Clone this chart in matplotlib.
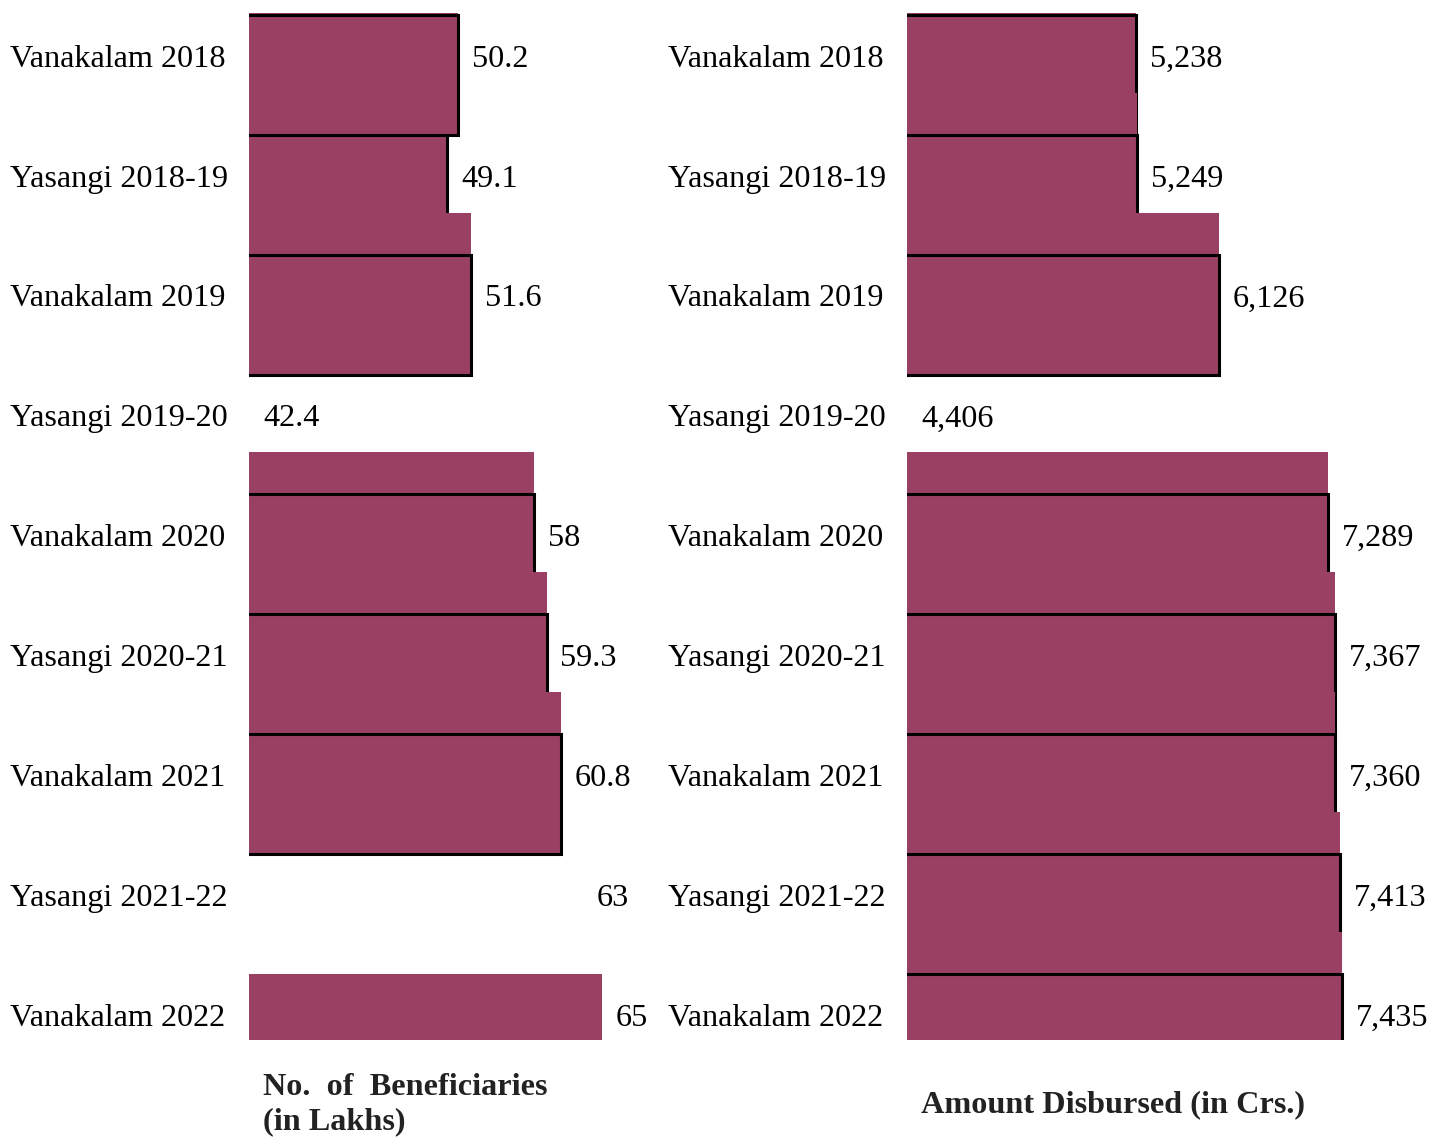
import matplotlib.pyplot as plt
from matplotlib import transforms

# season-wise data (Rythu Bandhu style summary)
categories = ["Vanakalam 2018", "Yasangi 2018-19", "Vanakalam 2019", "Yasangi 2019-20",
              "Vanakalam 2020", "Yasangi 2020-21", "Vanakalam 2021", "Yasangi 2021-22",
              "Vanakalam 2022"]
beneficiaries = [50.2, 49.1, 51.6, 42.4, 58, 59.3, 60.8, 63, 65]   # in lakhs
amounts = [5238, 5249, 6126, 4406, 7289, 7367, 7360, 7413, 7435]   # in crores

# rows where the picture shows no bar
no_bar = ["Yasangi 2019-20"]
no_bar_left = ["Yasangi 2021-22"]
no_box_left = ["Vanakalam 2022"]

bar_color = "#9a4062"
plt.rcParams["font.family"] = ["Liberation Serif", "DejaVu Serif"]
FS = 23.2

W, H = 1435, 1137
fig = plt.figure(figsize=(W / 100, H / 100), dpi=100)
ax_l = fig.add_axes([249 / W, 1 - 1040 / H, 400 / W, 1027 / H])
ax_r = fig.add_axes([907 / W, 1 - 1040 / H, 528 / W, 1027 / H])


def draw_panel(ax, values, labels, x0, x1, skip, no_box, label_x):
    trans = transforms.blended_transform_factory(fig.transFigure, ax.transData)
    for i, (cat, v, lab) in enumerate(zip(categories, values, labels)):
        ax.text(label_x, i, cat, transform=trans, va="center", ha="left", fontsize=FS)
        if cat in no_bar:
            ax.annotate(lab, xy=(x0, i), xytext=(10, 0), textcoords="offset points",
                        va="center", ha="left", fontsize=FS)
            continue
        if cat not in skip:
            if cat in no_box:
                ax.barh(i - 0.37, v, height=1.0, align="edge", color=bar_color,
                        linewidth=0, zorder=2 * i + 2)
            else:
                ax.barh(i - 0.72, v, height=1.35, align="edge", color=bar_color,
                        linewidth=0, zorder=2 * i + 2)
                ax.barh(i - 0.37, v, height=1.0, align="edge", fill=False,
                        edgecolor="black", linewidth=2.2, zorder=2 * i + 3)
        ax.annotate(lab, xy=(v, i), xytext=(10, 0), textcoords="offset points",
                    va="center", ha="left", fontsize=FS)
    ax.set_xlim(x0, x1)
    ax.set_ylim(8.18, -0.385)
    ax.axis("off")


draw_panel(ax_l, beneficiaries, [f"{v:g}" for v in beneficiaries], 28.8, 69.8,
           no_bar_left, no_box_left, 10 / W)
draw_panel(ax_r, amounts, [f"{v:,}" for v in amounts], 2787, 2787 + 528 / 0.0935,
           [], [], 668 / W)

fig.text(263 / W, 1 - 1105 / H, "No.  of  Beneficiaries\n(in Lakhs)", fontsize=FS,
         fontweight="bold", color="#222222", va="center", ha="left", linespacing=1.24)
fig.text(921 / W, 1 - 1105 / H, "Amount Disbursed (in Crs.)", fontsize=FS,
         fontweight="bold", color="#222222", va="center", ha="left")

fig.savefig("out.png", dpi=100)
